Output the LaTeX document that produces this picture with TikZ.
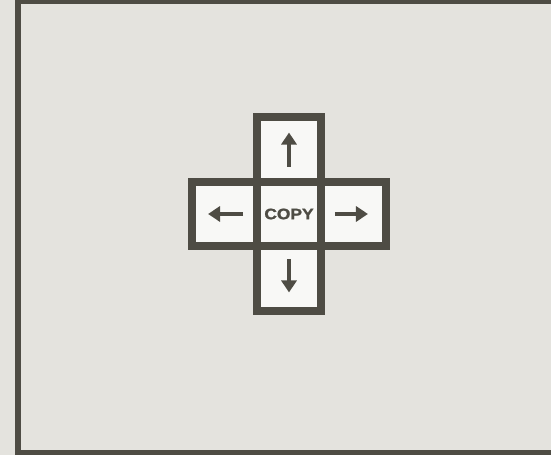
\documentclass[tikz,border=0pt]{standalone}
\usepackage{fontspec}
\usepackage{xcolor}
\usepackage{tikz}
\usetikzlibrary{positioning,arrows.meta}

\newfontfamily\keyfont{Liberation Sans}[FakeStretch=1.15,FakeBold=1.5]
\definecolor{paper}{HTML}{E4E3DE}
\definecolor{ink}{HTML}{4E4C44}
\definecolor{keyface}{HTML}{F8F8F6}

\tikzset{
  key/.style={draw=ink, fill=keyface, line width=0.16cm, minimum size=1.3cm, outer sep=0pt, inner sep=0pt},
  keyarrow/.style={draw=ink, line width=0.08cm, -{Triangle[length=0.24cm,width=0.3cm]}}
}

\begin{document}
\begin{tikzpicture}[x=0.02cm,y=-0.02cm]

\clip (0,0) rectangle (551,455);
\fill[paper] (0,0) rectangle (551,455);

\draw[ink, line width=0.12cm] (560,1) -- (18,1) -- (18,453) -- (560,453);

\node[key, text=ink] (copy) at (289,214) {\keyfont\bfseries\fontsize{8.6}{9}\selectfont COPY};
\node[key, above=0pt of copy] (up) {};
\node[key, below=0pt of copy] (down) {};
\node[key, left=0pt of copy] (left) {};
\node[key, right=0pt of copy] (right) {};

\draw[keyarrow] ([yshift=-0.35cm]up.center) -- ([yshift=0.33cm]up.center);
\draw[keyarrow] ([yshift=0.39cm]down.center) -- ([yshift=-0.27cm]down.center);
\draw[keyarrow] ([xshift=0.38cm]left.center) -- ([xshift=-0.32cm]left.center);
\draw[keyarrow] ([xshift=-0.38cm]right.center) -- ([xshift=0.28cm]right.center);

\end{tikzpicture}
\end{document}
